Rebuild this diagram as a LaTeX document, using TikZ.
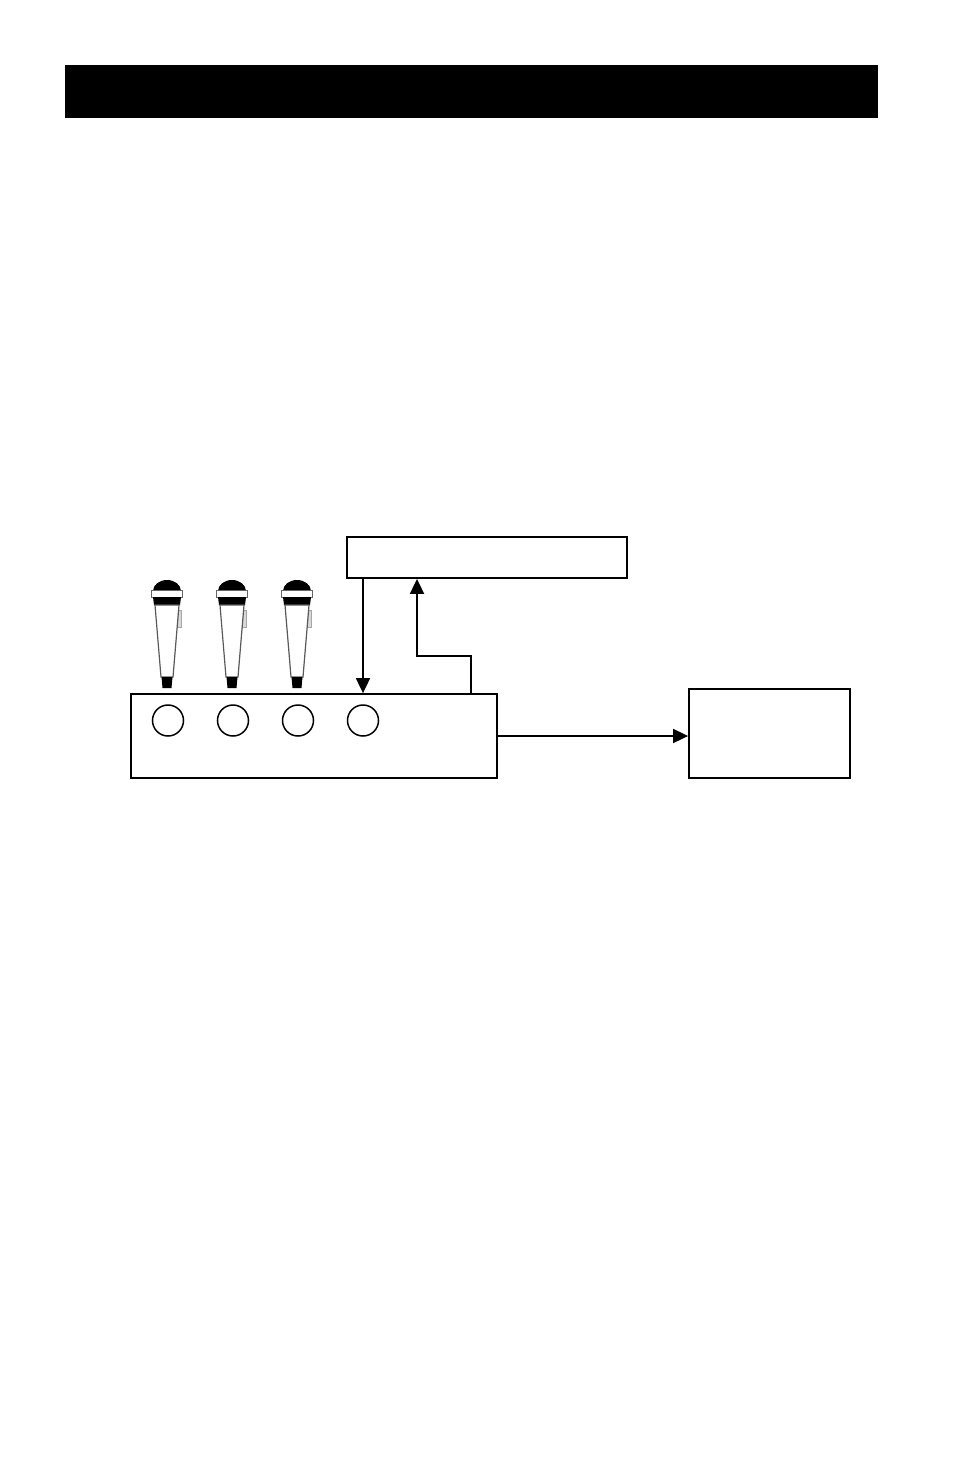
\documentclass[tikz,border=0pt]{standalone}
\usepackage{tikz}
\usetikzlibrary{arrows.meta,positioning}

\tikzset{
  unitbox/.style={draw=black, line width=1.8pt, fill=white, inner sep=0pt},
  jack/.style={circle, draw=black, line width=1.5pt, minimum size=31pt, inner sep=0pt},
  wire/.style={black, line width=1.8pt, -{Triangle[length=15pt,width=14pt]}},
  mic/.pic={
    \fill[black] (-14,591) arc[start angle=180, end angle=360, x radius=14, y radius=11] -- cycle;
    \filldraw[fill=white, draw=gray!80!black, line width=0.9pt] (-15.5,590) rectangle (15.5,597);
    \fill[black] (-14,597) -- (14,597) -- (13,605) -- (-13,605) -- cycle;
    \filldraw[fill=gray!30, draw=gray!70, line width=0.8pt] (10.5,610) rectangle (14,627);
    \filldraw[fill=white, draw=gray!70!black, line width=1.2pt] (-12,605) -- (12,605) -- (6,677) -- (-6,677) -- cycle;
    \fill[black] (-5.5,677) -- (5.5,677) -- (4.5,688) -- (-4.5,688) -- cycle;
  }
}

\begin{document}
\begin{tikzpicture}[x=1pt, y=-1pt]
		\useasboundingbox[fill=white] (0,0) rectangle (954,1475);
		% title bar
		\node[fill=black, minimum width=813pt, minimum height=53pt, inner sep=0pt] (bar) at (471.5, 91.5) {};
		% units
		\node[unitbox, minimum width=280pt, minimum height=41pt] (fx) at (487, 557.5) {};
		\node[unitbox, minimum width=366pt, minimum height=84pt] (mixer) at (314, 736) {};
		\node[unitbox, minimum width=161pt, minimum height=89pt] (amp) at (769.5, 733.5) {};
		% inputs
		\foreach \i/\x in {1/168, 2/233, 3/298, 4/363}
			\node[jack] (jack\i) at (\x, 720.5) {};
		% microphones
		\foreach \x in {167, 232, 297}
			\pic at (\x, 0) {mic};
		% connections
		\coordinate (tap) at (471, 0);
		\coordinate (knee) at (417, 656);
		\draw[wire] (fx.south -| jack4) -- (mixer.north -| jack4);
		\draw[wire] (mixer.north -| tap) |- (knee) -- (fx.south -| knee);
		\draw[wire] (mixer.east) -- (amp.west |- mixer.east);
\end{tikzpicture}
\end{document}
